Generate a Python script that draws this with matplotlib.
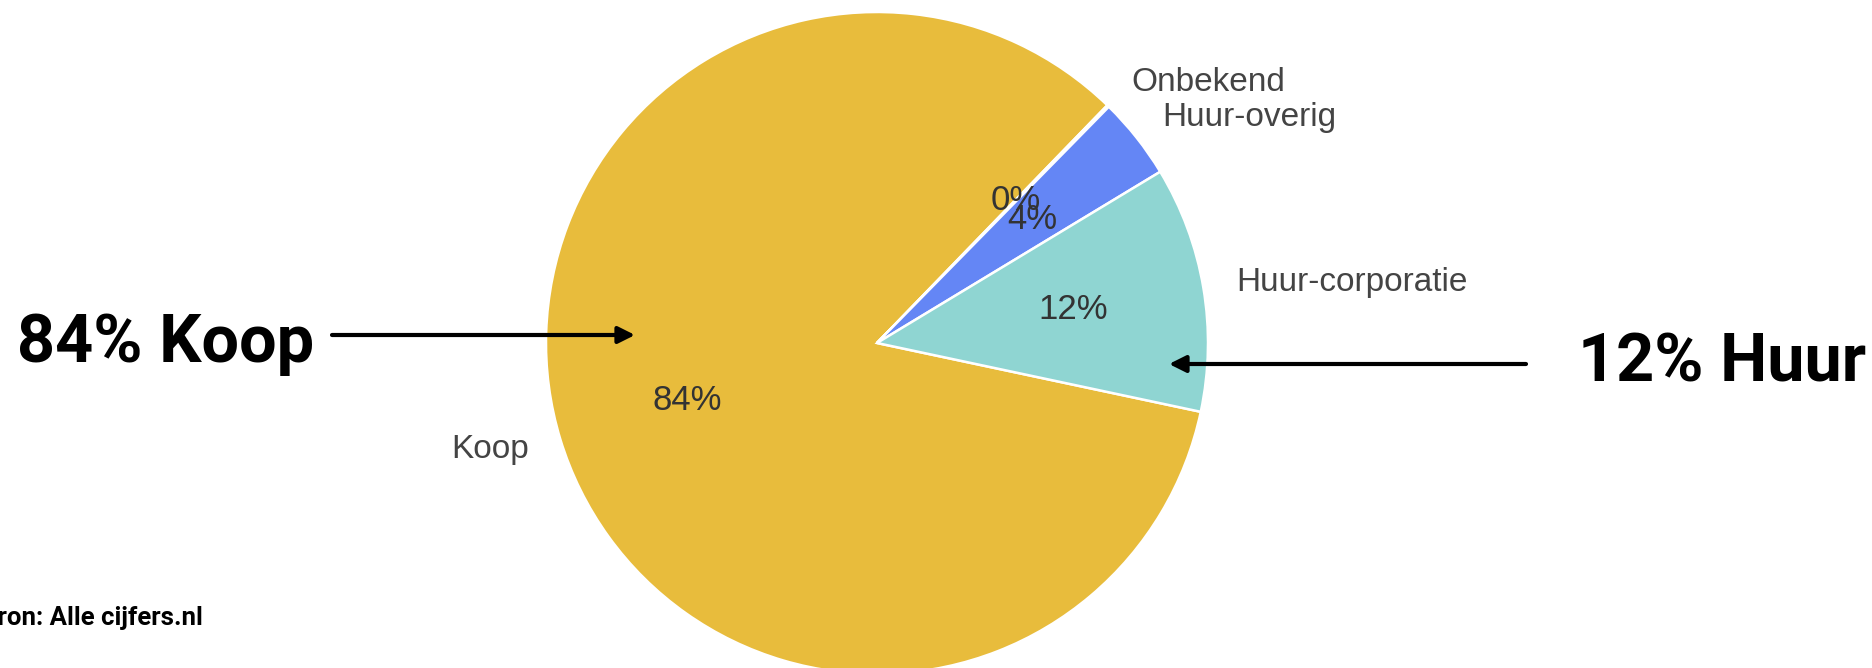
import matplotlib
matplotlib.use("Agg")
import matplotlib.pyplot as plt

# Data
categories = ["Koop", "Onbekend", "Huur-overig", "Huur-corporatie"]
values = [84.0, 0.1, 4.0, 12.0]
colors = ["#E8BC3C", "#6486F5", "#6486F5", "#8FD5D2"]
callouts = ["84% Koop", "12% Huur"]
source = "Bron: Alle cijfers.nl"

W, H = 1872, 668
fig = plt.figure(figsize=(W / 100, H / 100), dpi=100)

# Pie axes: centre (877, 343) px, radius 331 px
cx, cy, r = 877, 343, 331
ax = fig.add_axes([(cx - r) / W, (H - cy - r) / H, 2 * r / W, 2 * r / H])
wedges, texts, autotexts = ax.pie(
    values, labels=categories, colors=colors, startangle=-12, counterclock=False,
    autopct="%1.0f%%", pctdistance=0.6, labeldistance=1.1,
    wedgeprops=dict(edgecolor="white", linewidth=1.8),
    textprops=dict(family="Liberation Sans", fontsize=24, color="#444444"),
)
for t in autotexts:
    t.set_color("#333333")
    t.set_fontsize(25)
ax.set_xlim(-1, 1)
ax.set_ylim(-1, 1)
ax.set_aspect("equal")
ax.axis("off")

# Overlay axes in pixel coordinates
ov = fig.add_axes([0, 0, 1, 1], zorder=5)
ov.set_xlim(0, W)
ov.set_ylim(H, 0)
ov.axis("off")
ov.patch.set_alpha(0)

bold = dict(family="Roboto", fontweight="bold", color="black")
ov.text(17, 362, callouts[0], fontsize=48, ha="left", va="baseline", **bold)
ov.text(1578, 382, callouts[1], fontsize=48, ha="left", va="baseline", **bold)

arrowprops = dict(arrowstyle="-|>,head_length=1.0,head_width=0.5", color="black",
                  lw=3.0, shrinkA=0, shrinkB=0)
ov.annotate("", xy=(635, 335), xytext=(332, 335), arrowprops=arrowprops)
ov.annotate("", xy=(1169, 364), xytext=(1526, 364), arrowprops=arrowprops)

ov.text(203, 625, source, fontsize=18.5, ha="right", va="baseline", **bold)

fig.savefig("out.png", dpi=100)
